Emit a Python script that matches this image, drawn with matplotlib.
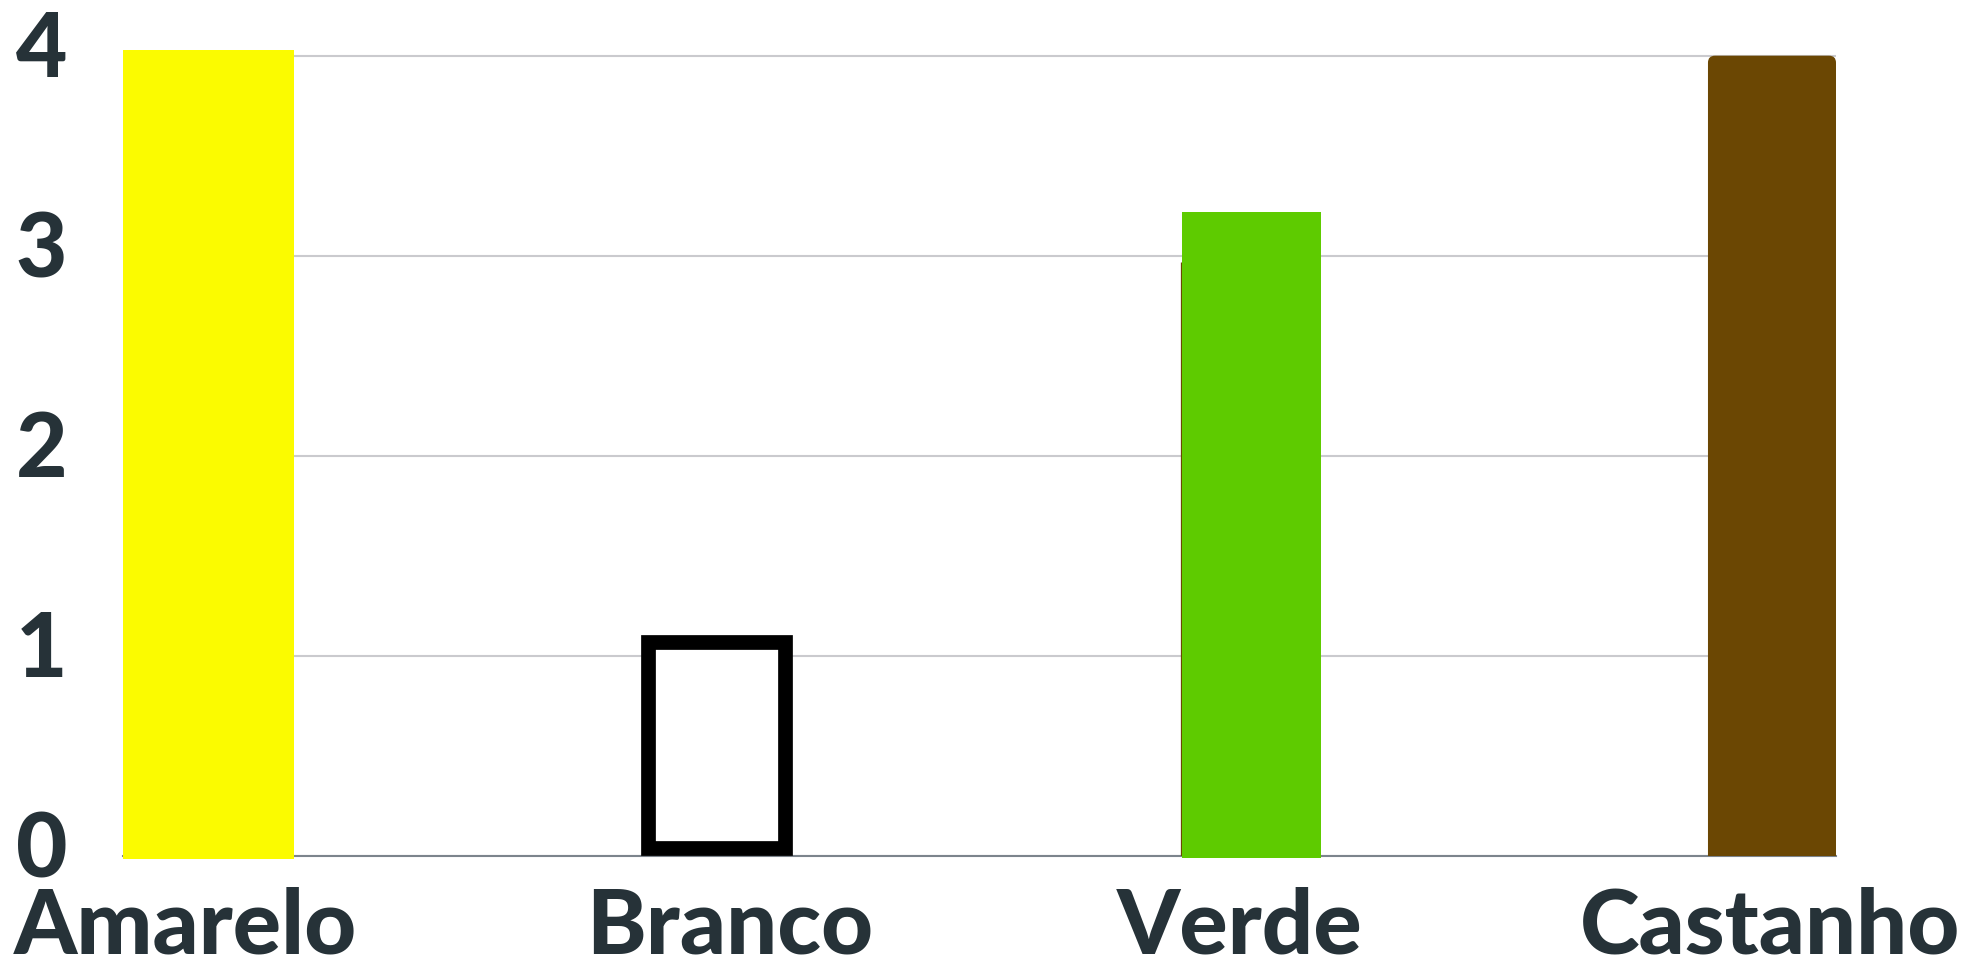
import matplotlib
matplotlib.use("Agg")
import matplotlib.pyplot as plt
from matplotlib.transforms import ScaledTranslation
from matplotlib.patches import FancyBboxPatch

categories = ["Amarelo", "Branco", "Verde", "Castanho"]
values = [4.03, 1.07, 3.22, 4.0]
yticks = [0, 1, 2, 3, 4]

colors = ["#FBFB00", "#FFFFFF", "#5ECB00", "#6B4703"]
edgecolors = ["none", "#000000", "none", "none"]
linewidths = [0, 10.6, 0, 0]
widths = [0.327, 0.262, 0.266, 0.245]
offsets = [0.01, -0.018, 0.006, 0.002]
bottoms = [-0.017, 0.037, -0.012, 0.0]
label_dx_px = [-18, 4, -9, -1]

TEXT = "#263238"
FONT = ["Lato", "DejaVu Sans"]
BROWN = "#6B4703"

fig = plt.figure(figsize=(19.73, 9.67), dpi=100)
ax = fig.add_axes([123 / 1973, 111.3 / 967, (1836 - 123) / 1973, 840 / 967])

xs = [i + o for i, o in enumerate(offsets)]
heights = [v - b for v, b in zip(values, bottoms)]
bars = ax.bar(xs, heights, bottom=bottoms, width=widths, color=colors,
              edgecolor=edgecolors, linewidth=linewidths, zorder=3, clip_on=False)

# thin dark sliver at the left edge of the green bar (as in the reference)
ax.vlines(xs[2] - widths[2] / 2 - 0.002, 0, 2.97, color=BROWN, linewidth=0.9, zorder=2.5)

xlim = (xs[0] - widths[0] / 2, xs[3] + widths[3] / 2)
ylim = (0, 4.2)
px_per_x = (1836 - 123) / (xlim[1] - xlim[0])
px_per_y = 840 / (ylim[1] - ylim[0])

# rounded top corners for the last bar (bottom corners hidden below the axis)
r = bars[3]
r.set_visible(False)
x0, y0 = r.get_x(), r.get_y()
w, h = r.get_width(), r.get_height()
rad = 7 / px_per_x
extra = 10 / px_per_y
fb = FancyBboxPatch((x0, y0 - extra), w, h + extra,
                    boxstyle=f"round,pad=0,rounding_size={rad}",
                    mutation_aspect=px_per_x / px_per_y, facecolor=colors[3],
                    edgecolor="none", zorder=3, clip_on=True)
ax.add_patch(fb)

ax.set_xlim(*xlim)
ax.set_ylim(*ylim)
ax.set_yticks(yticks)
ax.set_yticklabels([str(t) for t in yticks])
ax.set_xticks(range(len(categories)))
ax.set_xticklabels(categories)

ax.grid(axis="y", color="#CACACE", linewidth=1.5, zorder=0)
ax.set_axisbelow(True)
for s in ["top", "right", "left"]:
    ax.spines[s].set_visible(False)
ax.spines["bottom"].set_color("#7C848C")
ax.spines["bottom"].set_linewidth(1.5)
ax.spines["bottom"].set_zorder(2)
ax.tick_params(length=0)
ax.tick_params(axis="y", pad=40)
ax.tick_params(axis="x", pad=22)

for lab in ax.get_yticklabels():
    lab.set_fontfamily(FONT)
    lab.set_fontweight("black")
    lab.set_fontsize(64)
    lab.set_color(TEXT)
    lab.set_transform(lab.get_transform() + ScaledTranslation(0, 12 / 100, fig.dpi_scale_trans))
for lab, dx in zip(ax.get_xticklabels(), label_dx_px):
    lab.set_fontfamily(FONT)
    lab.set_fontweight("black")
    lab.set_fontsize(65)
    lab.set_color(TEXT)
    lab.set_transform(lab.get_transform() + ScaledTranslation(dx / 100, 0, fig.dpi_scale_trans))

fig.savefig("out.png", dpi=100, facecolor="white")
